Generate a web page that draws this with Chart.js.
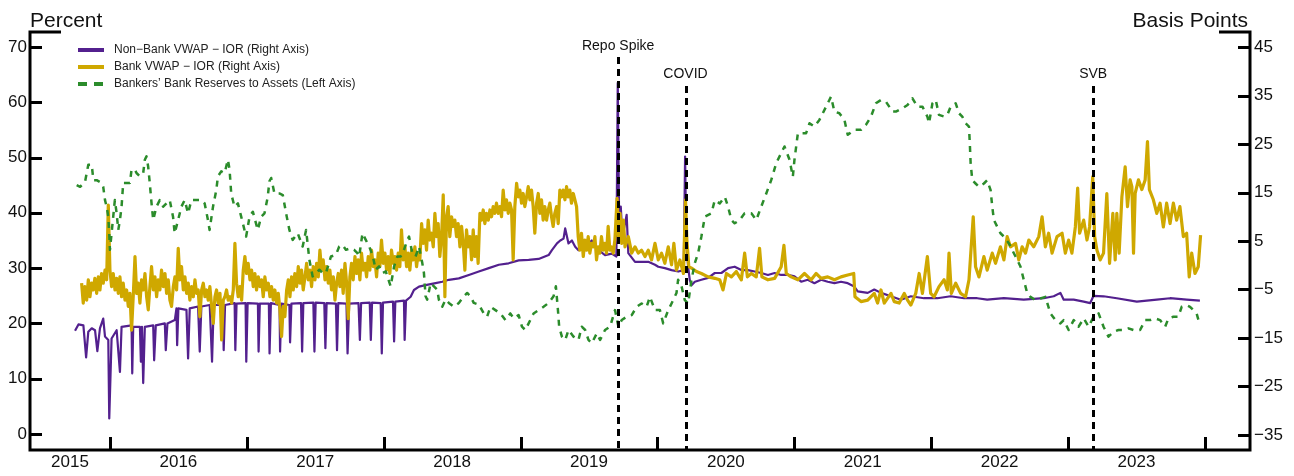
<!DOCTYPE html>
<html>
<head>
<meta charset="utf-8">
<title>VWAP − IOR and Bankers' Bank Reserves</title>
<script src="https://cdn.jsdelivr.net/npm/chart.js@4.4.1/dist/chart.umd.min.js"></script>
<style>
  html, body { margin: 0; padding: 0; background: #fff; }
  #wrap { width: 1294px; height: 476px; }
</style>
</head>
<body>
<div id="wrap"><canvas id="chart" width="1294" height="476"></canvas></div>
<script>
// Valores (datas em anos decimais)
const FONT = '"Liberation Sans", Arial, Helvetica, sans-serif';

const seriesLabels = [
  'Non\u2212Bank VWAP \u2212 IOR (Right Axis)',
  'Bank VWAP \u2212 IOR (Right Axis)',
  'Bankers\u2019 Bank Reserves to Assets (Left Axis)'
];

const xLabelYears = [2015, 2016, 2017, 2018, 2019, 2020, 2021, 2022, 2023];
const xTickYears = [2016, 2017, 2018, 2019, 2020, 2021, 2022, 2023, 2024];
const leftTicks = [0, 10, 20, 30, 40, 50, 60, 70];
const rightTicks = [-35, -25, -15, -5, 5, 15, 25, 35, 45];

const eventNames = ['Repo Spike', 'COVID', 'SVB'];
const eventDates = [2019.713, 2020.205, 2023.183];

// Non-Bank VWAP - IOR (pontos-base)
const nonBankDates = [
  2015.745, 2015.770, 2015.806, 2015.826, 2015.842, 2015.867, 2015.891, 2015.908, 2015.927, 2015.951,
  2015.964, 2015.988, 2015.995, 2016.012, 2016.049, 2016.073, 2016.085, 2016.158, 2016.163, 2016.170,
  2016.219, 2016.226, 2016.234, 2016.243, 2016.255, 2016.316, 2016.323, 2016.335, 2016.401, 2016.408,
  2016.420, 2016.474, 2016.486, 2016.491, 2016.500, 2016.559, 2016.571, 2016.583, 2016.644, 2016.656,
  2016.668, 2016.729, 2016.746, 2016.758, 2016.826, 2016.831, 2016.841, 2016.911, 2016.916, 2016.925,
  2016.991, 2016.996, 2017.006, 2017.081, 2017.086, 2017.095, 2017.161, 2017.166, 2017.176, 2017.239,
  2017.243, 2017.253, 2017.311, 2017.316, 2017.326, 2017.396, 2017.404, 2017.413, 2017.486, 2017.494,
  2017.503, 2017.566, 2017.574, 2017.583, 2017.651, 2017.659, 2017.668, 2017.728, 2017.736, 2017.748,
  2017.816, 2017.826, 2017.835, 2017.898, 2017.906, 2017.915, 2017.978, 2017.986, 2017.995, 2018.068,
  2018.076, 2018.085, 2018.148, 2018.153, 2018.163, 2018.197, 2018.221, 2018.258, 2018.306, 2018.379,
  2018.428, 2018.476, 2018.549, 2018.622, 2018.695, 2018.768, 2018.841, 2018.913, 2018.986, 2019.059,
  2019.132, 2019.205, 2019.229, 2019.266, 2019.290, 2019.314, 2019.326, 2019.350, 2019.375, 2019.399,
  2019.423, 2019.472, 2019.520, 2019.569, 2019.617, 2019.666, 2019.700, 2019.710, 2019.720, 2019.732,
  2019.744, 2019.763, 2019.775, 2019.787, 2019.836, 2019.884, 2019.933, 2019.982, 2020.006, 2020.054,
  2020.103, 2020.152, 2020.192, 2020.202, 2020.210, 2020.224, 2020.236, 2020.249, 2020.273, 2020.321,
  2020.370, 2020.419, 2020.467, 2020.516, 2020.564, 2020.613, 2020.661, 2020.710, 2020.758, 2020.807,
  2020.856, 2020.904, 2020.953, 2021.001, 2021.050, 2021.098, 2021.147, 2021.196, 2021.244, 2021.293,
  2021.341, 2021.390, 2021.438, 2021.463, 2021.536, 2021.584, 2021.633, 2021.706, 2021.778, 2021.851,
  2021.948, 2022.045, 2022.142, 2022.239, 2022.336, 2022.409, 2022.531, 2022.676, 2022.822, 2022.895,
  2022.944, 2022.968, 2023.041, 2023.114, 2023.162, 2023.186, 2023.259, 2023.356, 2023.502, 2023.648,
  2023.745, 2023.866, 2023.963
];
const nonBankBp = [
  -13.5, -12.2, -12.4, -19.0, -13.7, -13.0, -13.4, -17.7, -13.0, -11.0,
  -14.7, -15.4, -31.6, -15.1, -13.4, -22.0, -12.7, -12.4, -22.3, -12.7,
  -12.7, -19.9, -12.7, -24.3, -12.7, -12.4, -19.6, -12.4, -12.0, -17.5,
  -12.0, -11.3, -8.9, -16.5, -8.9, -9.2, -19.2, -8.9, -8.5, -17.8,
  -8.5, -8.2, -19.9, -8.2, -8.2, -17.5, -8.2, -7.8, -17.5, -7.9,
  -7.8, -19.9, -7.8, -7.9, -17.8, -7.9, -7.9, -18.2, -7.8, -8.2,
  -17.8, -7.9, -8.2, -15.9, -7.9, -7.8, -17.8, -7.8, -7.7, -17.8,
  -7.7, -7.8, -17.1, -7.8, -7.9, -17.5, -7.8, -7.9, -18.2, -7.9,
  -7.8, -15.4, -7.8, -7.7, -15.4, -7.7, -7.8, -18.2, -7.7, -7.5,
  -15.7, -7.5, -7.3, -15.4, -7.3, -6.5, -5.1, -4.4, -4.1, -3.7,
  -3.4, -3.0, -2.7, -2.0, -1.3, -0.6, 0.1, 0.4, 1.0, 1.1,
  1.3, 2.1, 3.1, 4.5, 5.1, 5.5, 7.6, 4.5, 5.1, 3.8,
  3.1, 3.8, 5.1, 3.1, 2.1, 2.4, 1.8, 37.6, 9.3, 12.1,
  5.9, 8.6, 10.4, 2.5, 0.7, 0.7, 0.7, 0.1, -0.3, -0.6,
  -1.0, -1.3, -1.0, 22.4, 5.2, -0.3, -3.0, -4.1, -3.4, -3.0,
  -2.6, -1.6, -1.6, -0.6, -0.3, -1.0, -1.0, -1.3, -1.6, -2.0,
  -1.6, -2.0, -2.0, -2.3, -3.4, -3.0, -3.7, -3.0, -3.4, -3.7,
  -3.4, -3.7, -4.4, -5.4, -5.7, -5.0, -5.7, -6.4, -7.1, -6.4,
  -6.8, -6.8, -6.4, -6.8, -6.8, -7.1, -6.8, -7.1, -6.8, -6.4,
  -5.7, -7.1, -7.1, -7.5, -7.8, -6.3, -6.4, -6.8, -7.5, -7.1,
  -6.8, -7.1, -7.3
];

// Bank VWAP - IOR (pontos-base)
const bankDates = [
  2015.793, 2015.805, 2015.817, 2015.830, 2015.842, 2015.854, 2015.866, 2015.878, 2015.890, 2015.903,
  2015.915, 2015.927, 2015.939, 2015.951, 2015.964, 2015.976, 2015.988, 2016.000, 2016.012, 2016.024,
  2016.037, 2016.049, 2016.061, 2016.073, 2016.085, 2016.097, 2016.110, 2016.122, 2016.134, 2016.146,
  2016.158, 2016.170, 2016.183, 2016.195, 2016.207, 2016.219, 2016.231, 2016.243, 2016.256, 2016.268,
  2016.280, 2016.292, 2016.304, 2016.317, 2016.329, 2016.341, 2016.353, 2016.365, 2016.377, 2016.390,
  2016.402, 2016.414, 2016.426, 2016.438, 2016.450, 2016.463, 2016.475, 2016.487, 2016.499, 2016.511,
  2016.523, 2016.536, 2016.548, 2016.560, 2016.572, 2016.584, 2016.597, 2016.609, 2016.621, 2016.633,
  2016.645, 2016.657, 2016.670, 2016.682, 2016.694, 2016.706, 2016.718, 2016.730, 2016.743, 2016.755,
  2016.767, 2016.779, 2016.791, 2016.804, 2016.816, 2016.828, 2016.840, 2016.852, 2016.864, 2016.877,
  2016.889, 2016.901, 2016.913, 2016.925, 2016.937, 2016.950, 2016.962, 2016.974, 2016.986, 2016.998,
  2017.010, 2017.023, 2017.035, 2017.047, 2017.059, 2017.071, 2017.084, 2017.096, 2017.108, 2017.120,
  2017.132, 2017.144, 2017.157, 2017.169, 2017.181, 2017.193, 2017.205, 2017.218, 2017.230, 2017.242,
  2017.254, 2017.266, 2017.278, 2017.291, 2017.303, 2017.315, 2017.327, 2017.339, 2017.351, 2017.364,
  2017.376, 2017.388, 2017.400, 2017.412, 2017.425, 2017.437, 2017.449, 2017.461, 2017.473, 2017.485,
  2017.498, 2017.510, 2017.522, 2017.534, 2017.546, 2017.558, 2017.571, 2017.583, 2017.595, 2017.607,
  2017.619, 2017.632, 2017.644, 2017.656, 2017.668,
  2017.680, 2017.692, 2017.704, 2017.717, 2017.729, 2017.741, 2017.753, 2017.765, 2017.777, 2017.790,
  2017.802, 2017.814, 2017.826, 2017.838, 2017.850, 2017.863, 2017.875, 2017.887, 2017.899, 2017.911,
  2017.924, 2017.936, 2017.948, 2017.960, 2017.972, 2017.984, 2017.997, 2018.009, 2018.021, 2018.033,
  2018.045, 2018.057, 2018.070, 2018.082, 2018.094, 2018.106, 2018.118, 2018.130, 2018.143, 2018.155,
  2018.167, 2018.179, 2018.191, 2018.204, 2018.216, 2018.228, 2018.240, 2018.252, 2018.264, 2018.277,
  2018.289, 2018.301, 2018.313, 2018.325, 2018.337, 2018.350, 2018.362, 2018.374, 2018.386, 2018.398,
  2018.410, 2018.423, 2018.435, 2018.447, 2018.459, 2018.471, 2018.483, 2018.496, 2018.508, 2018.520,
  2018.532, 2018.544, 2018.557, 2018.569, 2018.581, 2018.593, 2018.605, 2018.617, 2018.630, 2018.642,
  2018.654, 2018.666, 2018.678, 2018.690, 2018.703, 2018.715, 2018.727, 2018.739, 2018.751, 2018.764,
  2018.776, 2018.788, 2018.800, 2018.812, 2018.824, 2018.837, 2018.849, 2018.861, 2018.873, 2018.885,
  2018.897, 2018.910, 2018.922, 2018.934, 2018.946, 2018.958, 2018.971, 2018.983, 2018.995, 2019.007,
  2019.019, 2019.031, 2019.044, 2019.056, 2019.068, 2019.080, 2019.092, 2019.104, 2019.117, 2019.129,
  2019.141, 2019.153, 2019.165, 2019.177, 2019.190, 2019.202, 2019.214, 2019.226, 2019.238, 2019.250,
  2019.263, 2019.275, 2019.287, 2019.299, 2019.311, 2019.324, 2019.336, 2019.348, 2019.360, 2019.372,
  2019.385, 2019.397, 2019.409, 2019.421, 2019.433, 2019.445, 2019.458, 2019.470, 2019.482, 2019.494,
  2019.506, 2019.518, 2019.531, 2019.543, 2019.555, 2019.567, 2019.579, 2019.591, 2019.604, 2019.616,
  2019.628, 2019.640, 2019.652, 2019.664, 2019.677, 2019.689,
  2019.705, 2019.715, 2019.727, 2019.739, 2019.751, 2019.763,
  2019.787, 2019.812, 2019.836, 2019.860, 2019.884, 2019.909, 2019.933, 2019.957, 2019.982, 2020.006,
  2020.030, 2020.054, 2020.079, 2020.103, 2020.120, 2020.139, 2020.164, 2020.190, 2020.205, 2020.215,
  2020.229, 2020.249, 2020.285, 2020.321, 2020.370, 2020.419, 2020.455, 2020.479, 2020.504, 2020.540,
  2020.576, 2020.613, 2020.637, 2020.657, 2020.686, 2020.722, 2020.746, 2020.763, 2020.807, 2020.856,
  2020.904, 2020.924, 2020.941, 2020.977, 2021.026, 2021.074, 2021.123, 2021.159, 2021.196, 2021.244,
  2021.293, 2021.341, 2021.390, 2021.434, 2021.443, 2021.487, 2021.536, 2021.584, 2021.608, 2021.633,
  2021.657, 2021.706, 2021.730, 2021.766, 2021.803, 2021.827, 2021.851, 2021.887, 2021.912, 2021.936,
  2021.972, 2021.996, 2022.021, 2022.057, 2022.094, 2022.118, 2022.130, 2022.147, 2022.179, 2022.215,
  2022.251, 2022.276, 2022.307, 2022.324, 2022.349, 2022.385, 2022.409, 2022.446, 2022.470, 2022.506,
  2022.531, 2022.555, 2022.579, 2022.616, 2022.640, 2022.664, 2022.689, 2022.713, 2022.749, 2022.786,
  2022.810, 2022.834, 2022.858, 2022.883, 2022.919, 2022.956, 2022.980, 2023.004, 2023.028, 2023.053,
  2023.070, 2023.084, 2023.114, 2023.138, 2023.157, 2023.180, 2023.194, 2023.211, 2023.235, 2023.259,
  2023.283, 2023.303, 2023.327, 2023.344, 2023.356, 2023.373, 2023.393, 2023.417, 2023.434, 2023.453,
  2023.466, 2023.478, 2023.490, 2023.514, 2023.539, 2023.563, 2023.580, 2023.594, 2023.623, 2023.648,
  2023.672, 2023.696, 2023.720, 2023.745, 2023.769, 2023.793, 2023.817, 2023.842, 2023.866, 2023.885,
  2023.903, 2023.927, 2023.951, 2023.968
];
const bankBp = [
  -3.7, -7.8, -4.4, -7.2, -3.0, -6.5, -3.7, -5.1, -2.7, -5.8,
  -2.4, -5.1, -1.7, -3.7, -1.0, -3.0, 12.4, -1.0, -4.4, -1.7,
  -5.1, -2.7, -5.8, -2.4, -6.5, -3.7, -7.2, -5.1, -8.5, -5.8,
  -13.4, -6.5, 1.8, -5.8, -3.7, -7.8, -3.0, -5.1, -1.7, -6.5,
  -9.2, -4.4, -0.3, -5.1, -2.4, -6.5, -3.0, -5.1, -1.0, -4.4,
  -1.7, -5.8, -3.0, -7.2, -8.5, -4.4, -2.4, -5.1, 3.5, -3.0,
  -0.3, -5.1, -2.4, -5.8, -3.7, -7.2, -4.4, -6.5, -3.0, -5.8,
  -5.1, -10.6, -5.1, -3.7, -6.5, -5.1, -7.2, -4.4, -8.5, -12.0,
  -6.5, -5.1, -7.8, -5.8, -15.4, -7.2, -6.5, -5.1, -7.2, -6.5,
  -7.8, -5.1, 4.5, -3.7, -6.5, -4.4, -7.2, -1.0, 1.8, -1.7,
  0.4, -3.0, -1.0, -4.4, -1.7, -5.1, -2.4, -4.4, -3.0, -6.5,
  -2.4, -5.1, -3.7, -6.5, -4.4, -7.2, -5.1, -7.8, -5.8, -9.2,
  -14.7, -8.5, -10.6, -5.1, -3.0, -6.5, -2.4, -5.1, -1.7, -4.4,
  -0.3, -3.7, -1.0, -5.1, -2.4, 0.4, -3.0, -1.0, -4.4, -0.3,
  -3.0, 0.4, -2.4, 3.1, -1.0, 1.1, -3.0, -0.3, -3.7, -1.0,
  -5.1, -2.4, -7.2, -3.7, -1.7,
  -4.4, -1.0, -5.8, 0.4, -3.7, -11.0, -2.4, 0.4, -3.0, 1.8,
  -1.7, 1.1, -3.0, 2.5, -1.0, 0.4, -2.4, 1.8, -1.0, 3.1,
  -0.3, 1.1, -2.4, 2.5, -0.3, 5.2, 0.4, 2.5, -1.0, 1.8,
  -1.7, 3.1, 0.4, 1.8, -1.0, 2.5, -0.3, 7.3, 1.1, 3.8,
  -0.3, 2.5, -1.0, 3.1, 1.1, 3.8, -0.3, 2.5, 1.1, 8.6,
  4.5, 7.3, 3.1, 9.3, 5.2, 6.6, 3.8, 10.7, 5.9, 8.6,
  1.8, 5.9, 14.5, -6.5, 10.0, 12.1, 5.9, 10.0, 8.0, 9.3,
  5.9, 8.6, 3.8, 8.0, 4.5, -1.0, 7.3, 3.8, 5.9, 1.1,
  7.3, 1.8, 5.9, 0.4, 10.7, 9.3, 11.4, 8.6, 10.7, 9.3,
  11.4, 10.0, 12.1, 10.7, 12.8, 10.7, 12.1, 10.0, 15.5, 11.4,
  13.5, 10.7, 12.8, 11.4, 1.1, 12.1, 16.9, 14.1, 15.5, 12.8,
  14.8, 12.1, 14.1, 16.2, 13.5, 15.5, 12.1, 6.6, 12.8, 14.8,
  10.7, 13.5, 9.3, 12.1, 9.3, 11.4, 12.8, 10.0, 8.0, 10.7,
  12.1, 8.6, 15.5, 14.1, 15.5, 13.5, 16.2, 14.1, 15.5, 12.8,
  14.8, 13.5, 12.1, 5.9, 3.1, 6.6, 1.8, 5.2, 3.1, 5.9,
  2.5, 4.5, 3.8, 5.9, 1.1, 3.8, 2.5, 5.9, 3.1, 4.5,
  2.5, 8.0, 3.1, 3.8, 2.5, 5.2,
  13.8, 5.9, 10.7, 4.5, 9.3, 3.8,
  5.9, 2.5, 3.8, 2.5, 3.1, 1.8, 3.1, 1.1, 4.5, 1.1,
  2.5, 0.4, 3.8, 0.1, 4.5, -1.0, 1.1, -1.7, 13.5, 5.2,
  -0.3, -0.6, -1.3, -1.7, -2.4, -2.7, -3.0, -5.1, -1.7, -2.4,
  -1.3, -3.0, 2.5, -2.4, -1.7, -2.4, 3.5, -2.4, -3.0, -2.7,
  -0.3, 4.1, -1.7, -2.4, -3.0, -1.7, -3.0, -1.7, -2.7, -2.4,
  -3.0, -2.4, -2.0, -1.7, -6.5, -7.5, -7.2, -5.8, -7.8, -5.1,
  -7.8, -5.8, -7.5, -7.8, -5.8, -7.2, -8.2, -5.8, -1.7, -5.8,
  1.8, -5.8, -6.5, -4.4, -3.0, -5.1, 2.5, -5.8, -3.7, -5.8,
  -6.5, -3.0, 10.0, -0.3, -2.4, 1.8, -1.0, 2.5, 0.4, 3.8,
  1.1, 5.9, 3.8, 4.5, 1.1, 3.8, 2.5, 5.2, 3.8, 5.9,
  10.0, 3.8, 6.6, 2.5, 5.9, 6.6, 2.5, 5.2, 2.5, 7.9,
  15.9, 6.6, 9.3, 5.2, 7.9, 18.3, 5.9, 3.1, 1.1, 2.5,
  14.8, 0.4, 10.7, 1.1, 10.7, 2.5, 14.1, 20.3, 12.1, 17.6,
  16.2, 2.5, 14.8, 17.6, 15.6, 17.6, 25.5, 15.6, 13.5, 10.7,
  12.8, 7.9, 12.8, 8.6, 12.8, 9.3, 12.1, 5.9, 6.6, -2.4,
  2.5, -1.7, -0.3, 6.2
];

// Bankers' Bank Reserves to Assets (percent)
const reserveDates = [
  2015.757, 2015.782, 2015.818, 2015.842, 2015.867, 2015.879, 2015.903, 2015.939, 2015.951, 2015.964,
  2015.976, 2015.988, 2015.995, 2016.000, 2016.012, 2016.036, 2016.049, 2016.061, 2016.073, 2016.085,
  2016.097, 2016.121, 2016.146, 2016.158, 2016.182, 2016.194, 2016.219, 2016.243, 2016.255, 2016.267,
  2016.279, 2016.291, 2016.304, 2016.316, 2016.340, 2016.364, 2016.389, 2016.413, 2016.437, 2016.461,
  2016.473, 2016.498, 2016.522, 2016.546, 2016.571, 2016.595, 2016.631, 2016.668, 2016.692, 2016.716,
  2016.728, 2016.753, 2016.777, 2016.789, 2016.813, 2016.838, 2016.862, 2016.874, 2016.886, 2016.910,
  2016.935, 2016.959, 2016.983, 2016.995, 2017.020, 2017.044, 2017.080, 2017.105, 2017.129, 2017.153,
  2017.165, 2017.178, 2017.202, 2017.238, 2017.263, 2017.287, 2017.311, 2017.335, 2017.372, 2017.408,
  2017.433, 2017.457, 2017.481, 2017.505, 2017.530, 2017.554, 2017.578, 2017.615, 2017.651, 2017.675,
  2017.699, 2017.724, 2017.760, 2017.784, 2017.808, 2017.821, 2017.845, 2017.869, 2017.894, 2017.918,
  2017.942, 2017.966, 2017.991, 2018.015, 2018.051, 2018.076, 2018.100, 2018.124, 2018.148, 2018.173,
  2018.185, 2018.209, 2018.233, 2018.258, 2018.282, 2018.294, 2018.306, 2018.318, 2018.343, 2018.367,
  2018.391, 2018.403, 2018.428, 2018.452, 2018.476, 2018.513, 2018.549, 2018.586, 2018.610, 2018.634,
  2018.658, 2018.695, 2018.731, 2018.755, 2018.780, 2018.816, 2018.853, 2018.889, 2018.925, 2018.950,
  2018.986, 2019.010, 2019.035, 2019.071, 2019.095, 2019.132, 2019.168, 2019.205, 2019.241, 2019.258,
  2019.273, 2019.282, 2019.302, 2019.326, 2019.350, 2019.387, 2019.423, 2019.447, 2019.472, 2019.496,
  2019.520, 2019.557, 2019.581, 2019.617, 2019.654, 2019.690, 2019.715, 2019.739, 2019.775, 2019.812,
  2019.848, 2019.884, 2019.921, 2019.945, 2019.982, 2020.018, 2020.042, 2020.079, 2020.103, 2020.139,
  2020.151, 2020.176, 2020.200, 2020.224, 2020.249, 2020.273, 2020.297, 2020.321, 2020.346, 2020.394,
  2020.419, 2020.455, 2020.492, 2020.516, 2020.540, 2020.564, 2020.601, 2020.637, 2020.686, 2020.722,
  2020.758, 2020.795, 2020.831, 2020.868, 2020.904, 2020.928, 2020.965, 2020.989, 2021.001, 2021.026,
  2021.062, 2021.086, 2021.111, 2021.147, 2021.183, 2021.208, 2021.232, 2021.256, 2021.268, 2021.293,
  2021.329, 2021.366, 2021.390, 2021.438, 2021.487, 2021.523, 2021.560, 2021.596, 2021.633, 2021.669,
  2021.718, 2021.742, 2021.790, 2021.827, 2021.863, 2021.899, 2021.936, 2021.972, 2021.984, 2022.009,
  2022.033, 2022.057, 2022.094, 2022.118, 2022.142, 2022.179, 2022.203, 2022.227, 2022.251, 2022.276,
  2022.283, 2022.288, 2022.300, 2022.324, 2022.349, 2022.385, 2022.409, 2022.434, 2022.446, 2022.458,
  2022.482, 2022.506, 2022.531, 2022.567, 2022.591, 2022.616, 2022.652, 2022.676, 2022.701, 2022.725,
  2022.761, 2022.798, 2022.834, 2022.871, 2022.907, 2022.944, 2022.968, 2023.004, 2023.041, 2023.077,
  2023.114, 2023.150, 2023.186, 2023.223, 2023.259, 2023.295, 2023.332, 2023.368, 2023.405, 2023.441,
  2023.478, 2023.526, 2023.563, 2023.599, 2023.636, 2023.672, 2023.709, 2023.733, 2023.769, 2023.805,
  2023.830, 2023.866, 2023.891, 2023.915, 2023.939, 2023.963
];
const reservePct = [
  45.0, 44.7, 45.6, 48.7, 48.7, 45.9, 45.9, 45.4, 44.7, 42.3,
  41.1, 39.3, 36.3, 33.3, 36.3, 42.3, 39.9, 36.9, 38.7, 41.1,
  45.4, 45.4, 45.4, 47.8, 47.8, 47.2, 46.6, 47.2, 49.6, 50.2,
  48.4, 45.4, 41.7, 38.7, 41.1, 42.3, 41.1, 41.7, 42.3, 39.3,
  36.3, 38.7, 41.1, 42.3, 39.9, 42.3, 42.3, 42.3, 41.7, 38.7,
  36.9, 41.1, 44.1, 46.6, 47.5, 47.2, 49.6, 47.8, 43.5, 41.1,
  41.7, 39.3, 36.9, 35.7, 39.3, 40.2, 36.9, 39.3, 39.9, 42.9,
  45.7, 46.3, 43.5, 43.5, 43.2, 39.9, 36.9, 35.1, 36.3, 33.9,
  36.9, 31.5, 28.5, 29.1, 29.7, 29.1, 29.1, 32.1, 32.4, 33.9,
  34.2, 33.3, 33.6, 33.3, 32.7, 32.1, 36.3, 35.1, 33.9, 32.4,
  29.7, 30.3, 29.1, 29.4, 26.7, 30.3, 32.1, 32.1, 33.3, 35.1,
  35.7, 32.7, 32.1, 33.9, 30.9, 29.1, 24.9, 24.3, 27.3, 26.7,
  26.1, 24.3, 23.0, 24.3, 23.7, 23.0, 23.7, 24.9, 25.5, 24.9,
  23.7, 23.4, 21.8, 21.2, 23.0, 22.4, 21.8, 20.6, 21.8, 20.9,
  21.5, 19.4, 18.8, 20.6, 21.8, 22.4, 23.0, 23.7, 24.9, 26.7,
  22.4, 19.4, 17.6, 17.0, 18.8, 17.6, 17.0, 19.4, 18.8, 17.0,
  16.4, 18.2, 17.0, 18.8, 19.4, 22.4, 19.4, 20.6, 21.2, 21.5,
  23.0, 23.6, 23.0, 24.8, 22.4, 22.4, 20.0, 22.4, 23.6, 25.5,
  27.9, 26.7, 24.2, 23.6, 27.9, 30.9, 32.7, 35.7, 39.3, 39.9,
  42.3, 41.7, 42.9, 41.1, 38.7, 38.1, 38.7, 39.9, 39.9, 38.7,
  41.1, 43.5, 45.9, 49.0, 50.8, 52.0, 49.6, 46.5, 49.6, 54.4,
  54.4, 54.4, 56.2, 55.6, 56.8, 58.0, 59.2, 60.4, 61.0, 58.3,
  58.0, 56.8, 54.1, 55.0, 55.0, 55.9, 57.4, 59.8, 60.4, 60.1,
  58.3, 58.3, 58.9, 59.5, 60.7, 59.2, 59.2, 57.4, 56.2, 59.8,
  60.4, 57.7, 57.4, 57.7, 59.2, 59.8, 58.0, 57.4, 56.2, 55.6,
  52.0, 49.0, 45.9, 45.3, 44.7, 45.3, 45.9, 44.1, 41.1, 38.7,
  37.5, 36.3, 35.7, 34.5, 33.3, 32.1, 30.3, 27.9, 25.5, 24.8,
  24.2, 24.5, 24.8, 21.8, 20.6, 20.0, 20.6, 18.8, 20.6, 19.4,
  20.9, 19.4, 21.2, 21.8, 19.4, 17.6, 18.5, 18.8, 18.8, 19.1,
  18.8, 18.8, 20.6, 20.6, 20.9, 20.6, 19.4, 20.9, 21.2, 21.2,
  23.0, 23.3, 23.0, 22.4, 21.8, 19.7
];

// Limites dos eixos
const xMin = 2015.416, xMax = 2024.329;
const leftMin = -2.9, leftMax = 72.7;
const rightMin = -38.1, rightMax = 48.1;

// Layout (px)
const eventLabelY = [46, 74, 74];
const eventLineTop = [57, 86, 86];
const legendRows = [50, 67, 84];

const colors = ['#53208e', '#cfa800', '#2b8c2b'];

function toPoints(dates, values) {
  return dates.map((d, i) => ({ x: d, y: values[i] }));
}

function labelPos(year) {
  const a = Math.max(year, xMin), b = Math.min(year + 1, xMax);
  return (a + b) / 2;
}

function bpLabel(v) {
  return v < 0 ? '\u2212' + Math.abs(v) : String(v);
}

// Moldura, marcas internas, eventos e legenda
const fedFrame = {
  id: 'fedFrame',
  afterDatasetsDraw(chart) {
    const { ctx, chartArea: a, scales } = chart;
    const x = scales.x;
    ctx.save();

    // linhas verticais dos eventos
    ctx.strokeStyle = '#000';
    ctx.lineWidth = 3;
    ctx.setLineDash([7, 5]);
    eventDates.forEach((d, i) => {
      const px = Math.round(x.getPixelForValue(d)) + 0.5;
      ctx.beginPath();
      ctx.moveTo(px, eventLineTop[i]);
      ctx.lineTo(px, a.bottom);
      ctx.stroke();
    });
    ctx.setLineDash([]);

    ctx.fillStyle = '#111';
    ctx.font = '14px ' + FONT;
    ctx.textAlign = 'center';
    ctx.textBaseline = 'middle';
    eventNames.forEach((n, i) => {
      ctx.fillText(n, x.getPixelForValue(eventDates[i]), eventLabelY[i]);
    });

    // eixos
    ctx.lineWidth = 3;
    ctx.beginPath();
    ctx.moveTo(a.left + 31, a.top);
    ctx.lineTo(a.left, a.top);
    ctx.lineTo(a.left, a.bottom);
    ctx.lineTo(a.right, a.bottom);
    ctx.lineTo(a.right, a.top);
    ctx.lineTo(a.right - 31, a.top);
    ctx.stroke();

    // marcas para dentro
    ctx.beginPath();
    leftTicks.forEach(v => {
      const py = Math.round(scales.yLeft.getPixelForValue(v)) + 0.5;
      ctx.moveTo(a.left, py);
      ctx.lineTo(a.left + 12, py);
    });
    rightTicks.forEach(v => {
      const py = Math.round(scales.yRight.getPixelForValue(v)) + 0.5;
      ctx.moveTo(a.right, py);
      ctx.lineTo(a.right - 12, py);
    });
    xTickYears.forEach(v => {
      const px = Math.round(x.getPixelForValue(v)) + 0.5;
      ctx.moveTo(px, a.bottom);
      ctx.lineTo(px, a.bottom - 13);
    });
    ctx.stroke();

    // legenda
    ctx.font = '12px ' + FONT;
    ctx.textAlign = 'left';
    ctx.textBaseline = 'middle';
    chart.data.datasets.forEach((ds, i) => {
      const y = legendRows[i];
      ctx.strokeStyle = ds.borderColor;
      ctx.lineWidth = 4;
      ctx.setLineDash(ds.borderDash && ds.borderDash.length ? [9, 7] : []);
      ctx.beginPath();
      ctx.moveTo(78, y);
      ctx.lineTo(104, y);
      ctx.stroke();
      ctx.setLineDash([]);
      ctx.fillStyle = '#222';
      ctx.fillText(ds.label, 114, y);
    });

    // títulos dos eixos
    ctx.fillStyle = '#111';
    ctx.font = '21px ' + FONT;
    ctx.textBaseline = 'alphabetic';
    ctx.textAlign = 'left';
    ctx.fillText('Percent', a.left, 27);
    ctx.textAlign = 'right';
    ctx.fillText('Basis Points', a.right - 2, 27);

    ctx.restore();
  }
};

const tickFont = { family: FONT, size: 17 };

new Chart(document.getElementById('chart'), {
  type: 'line',
  data: {
    datasets: [
      {
        label: seriesLabels[0],
        data: toPoints(nonBankDates, nonBankBp),
        yAxisID: 'yRight',
        borderColor: colors[0],
        borderWidth: 2.2,
        order: 2
      },
      {
        label: seriesLabels[1],
        data: toPoints(bankDates, bankBp),
        yAxisID: 'yRight',
        borderColor: colors[1],
        borderWidth: 3.2,
        order: 1
      },
      {
        label: seriesLabels[2],
        data: toPoints(reserveDates, reservePct),
        yAxisID: 'yLeft',
        borderColor: colors[2],
        borderWidth: 2.5,
        borderDash: [6, 6],
        order: 0
      }
    ]
  },
  options: {
    responsive: false,
    animation: false,
    events: [],
    layout: { padding: { top: 32, left: 0, right: 0, bottom: 0 } },
    elements: {
      point: { radius: 0 },
      line: { tension: 0, fill: false, borderJoinStyle: 'round' }
    },
    plugins: {
      legend: { display: false },
      tooltip: { enabled: false }
    },
    scales: {
      x: {
        type: 'linear',
        min: xMin,
        max: xMax,
        grid: { display: false, drawTicks: false },
        border: { display: false },
        afterBuildTicks: s => { s.ticks = xLabelYears.map(y => ({ value: labelPos(y) })); },
        afterFit: s => { s.height = 26; },
        ticks: {
          autoSkip: false,
          maxRotation: 0,
          padding: 2,
          color: '#111',
          font: tickFont,
          callback: v => String(Math.floor(v))
        }
      },
      yLeft: {
        type: 'linear',
        position: 'left',
        min: leftMin,
        max: leftMax,
        grid: { display: false, drawTicks: false },
        border: { display: false },
        afterBuildTicks: s => { s.ticks = leftTicks.map(v => ({ value: v })); },
        afterFit: s => { s.width = 30; },
        ticks: { padding: 3, color: '#111', font: tickFont }
      },
      yRight: {
        type: 'linear',
        position: 'right',
        min: rightMin,
        max: rightMax,
        grid: { display: false, drawTicks: false },
        border: { display: false },
        afterBuildTicks: s => { s.ticks = rightTicks.map(v => ({ value: v })); },
        afterFit: s => { s.width = 44; },
        ticks: { padding: 4, color: '#111', font: tickFont, callback: bpLabel }
      }
    }
  },
  plugins: [fedFrame]
});
</script>
</body>
</html>
